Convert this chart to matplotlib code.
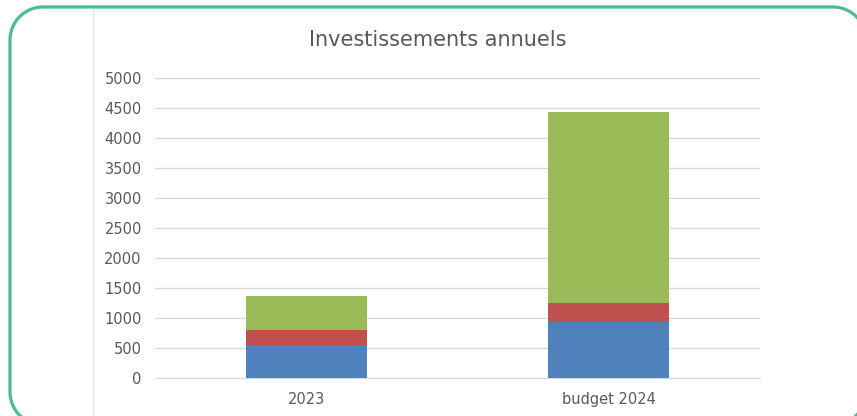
import numpy as np
import matplotlib.pyplot as plt

categories = ["2023", "budget 2024"]
blue_vals = [550, 930]
red_vals = [250, 320]
green_vals = [570, 3190]

blue = "#4F81BD"
red = "#C0504D"
green = "#9BBB59"

fig = plt.figure(figsize=(8.57, 4.16), dpi=100)

# background frame in pixel coords (y up)
bg = fig.add_axes([0, 0, 1, 1], zorder=0)
bg.set_xlim(0, 857)
bg.set_ylim(0, 416)
bg.axis("off")
x0, x1, y0, y1, r = 10, 866, -9, 409, 33
px, py = [], []
for cx, cy, a0 in [(x1 - r, y1 - r, 0), (x0 + r, y1 - r, 90), (x0 + r, y0 + r, 180), (x1 - r, y0 + r, 270)]:
    t = np.radians(np.linspace(a0, a0 + 90, 30))
    px += list(cx + r * np.cos(t))
    py += list(cy + r * np.sin(t))
px.append(px[0])
py.append(py[0])
bg.plot(px, py, color="#4DBA98", lw=2.3, solid_joinstyle="round")
bg.plot([93, 93], [0, 407], color="#e3e3e3", lw=1)

ax = fig.add_axes([155/857, 38/416, 605/857, 300/416], zorder=1)
ax.patch.set_alpha(0)
x = range(len(categories))
w = 0.4
bottom2 = [b + r for b, r in zip(blue_vals, red_vals)]
ax.bar(x, blue_vals, w, color=blue, zorder=3)
ax.bar(x, red_vals, w, bottom=blue_vals, color=red, zorder=3)
ax.bar(x, green_vals, w, bottom=bottom2, color=green, zorder=3)

ax.set_xlim(-0.5, 1.5)
ax.set_ylim(0, 5000)
ax.set_yticks(range(0, 5001, 500))
ax.set_xticks(list(x))
ax.set_xticklabels(categories)
ax.grid(axis="y", color="#d9d9d9", lw=1, zorder=0)
for s in ax.spines.values():
    s.set_visible(False)
ax.spines["bottom"].set_visible(True)
ax.spines["bottom"].set_color("#d9d9d9")
ax.tick_params(length=0, colors="#595959", labelsize=10.5)
ax.tick_params(axis="y", pad=9.5)
ax.tick_params(axis="x", pad=10)

fig.text(438/857, 1 - 40/416, "Investissements annuels", ha="center", va="center",
         fontsize=15, color="#595959")

fig.savefig("out.png", dpi=100)
